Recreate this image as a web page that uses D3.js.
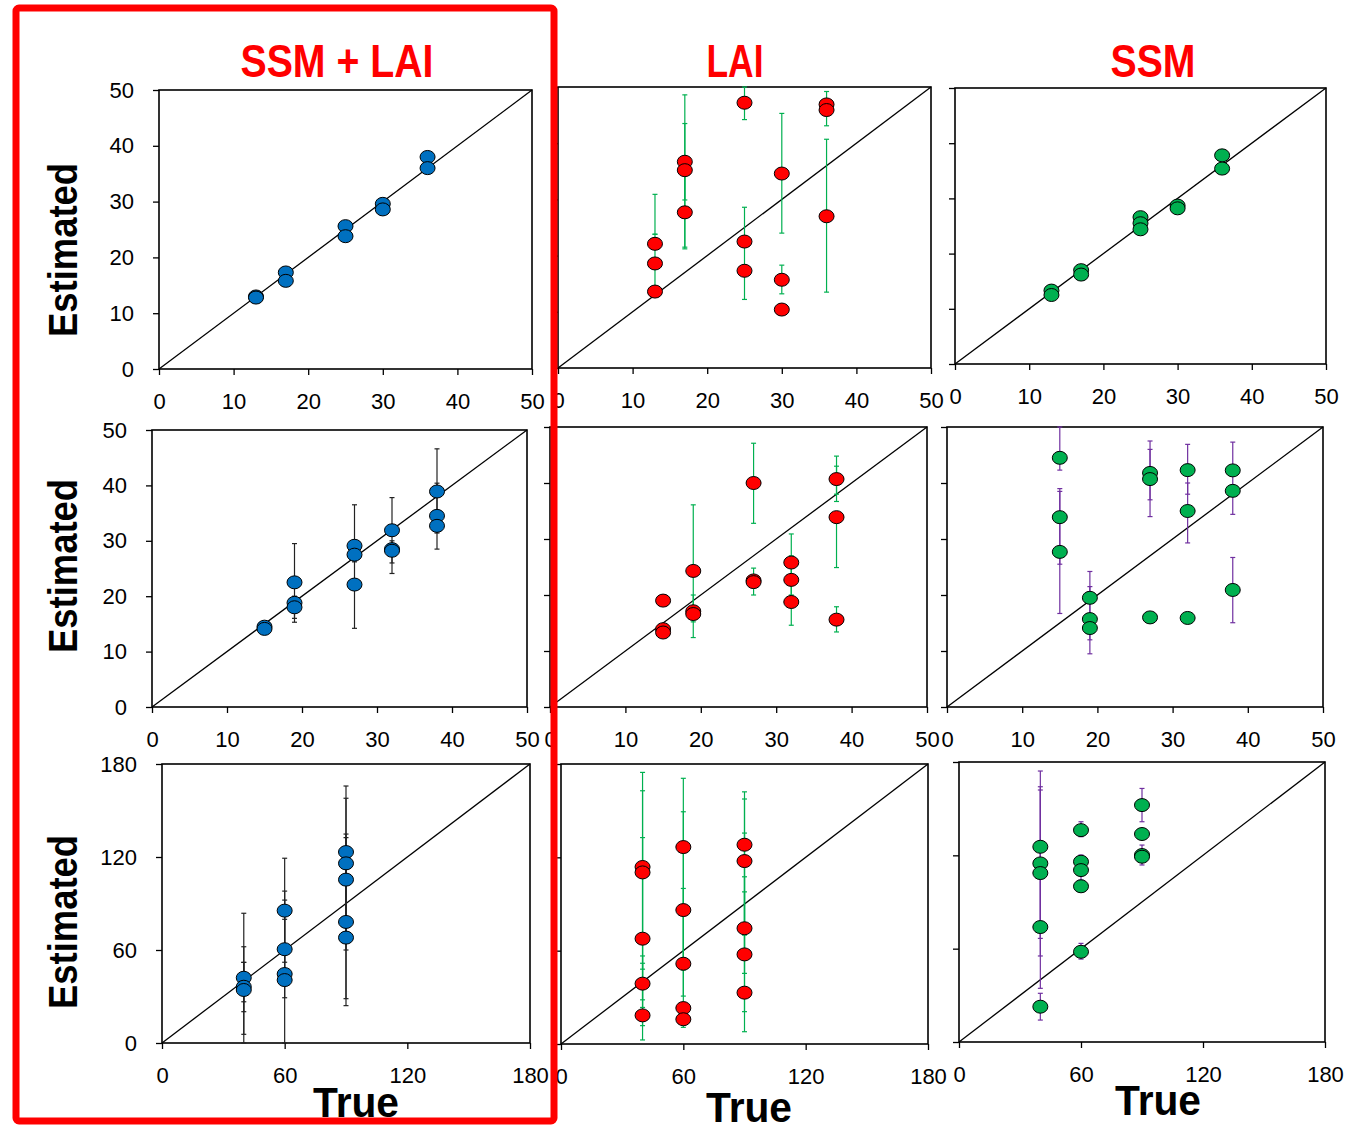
<!DOCTYPE html>
<html>
<head>
<meta charset="utf-8">
<script src="https://cdn.jsdelivr.net/npm/d3@7"></script>
<style>
  body { margin: 0; background: #fff; }
  svg { display: block; }
  text { font-family: "Liberation Sans", Arial, sans-serif; }
</style>
</head>
<body>
<div id="chart"></div>
<script>
// ---- data: [true, estimated] points and [true, low, high] error bars ----
var ticks50 = [0, 10, 20, 30, 40, 50];
var ticks180 = [0, 60, 120, 180];
var colTitles = ["SSM + LAI", "LAI", "SSM"];

// row 1
var ssmLai1 = [[13,13.0],[13,12.8],[17,17.3],[17,15.8],[25,25.6],[25,23.8],[30,29.6],[30,28.6],[36,38.0],[36,36.0]];
var ssmLai1Err = [];
var lai1 = [[13,22.1],[13,18.6],[13,13.6],[17,36.7],[17,35.2],[17,27.7],[25,47.2],[25,22.5],[25,17.3],[30,34.6],[30,15.7],[30,10.4],[36,46.9],[36,45.9],[36,27.0]];
var lai1Err = [[13,23.8,30.9],[13,14.5,23.8],[17,29.9,48.6],[17,21.2,43.5],[17,21.5,36],[25,44.2,50],[25,12.2,28.6],[30,24.0,45.3],[30,13.2,18.3],[36,43.1,49.2],[36,13.5,40.7]];
var ssm1 = [[13,13.3],[13,12.5],[17,17.0],[17,16.2],[25,26.6],[25,25.5],[25,24.4],[30,28.7],[30,28.2],[36,37.8],[36,35.4]];
var ssm1Err = [];

// row 2
var ssmLai2 = [[15,14.5],[15,14.1],[19,22.5],[19,18.8],[19,18.0],[27,29.1],[27,27.5],[27,22.1],[32,31.9],[32,28.5],[32,28.2],[38,38.9],[38,34.5],[38,32.7]];
var ssmLai2Err = [[15,13.2,14.5],[19,15.3,29.5],[19,16,20],[27,14.2,36.5],[27,26.2,30],[32,24.1,37.8],[32,26,30],[38,28.5,46.6],[38,31.4,40.4]];
var lai2 = [[15,19.0],[15,13.9],[15,13.3],[19,24.3],[19,17.1],[19,16.6],[27,40.0],[27,22.6],[27,22.3],[32,25.8],[32,22.7],[32,18.75],[38,40.7],[38,33.9],[38,15.6]];
var lai2Err = [[19,12.4,36.1],[19,15.2,20],[27,32.8,47.1],[27,20.0,24.8],[32,14.6,30.9],[32,20,27],[38,36.7,44.8],[38,38,43],[38,24.9,33.9],[38,13.4,17.9]];
var ssm2 = [[15,44.5],[15,33.9],[15,27.7],[19,19.5],[19,15.7],[19,14.1],[27,41.8],[27,40.7],[27,16.0],[32,42.3],[32,35.0],[32,15.9],[38,42.25],[38,38.6],[38,20.9]];
var ssm2Err = [[15,42.3,50],[15,25.5,39.0],[15,16.7,38.5],[19,9.5,24.2],[19,12,21.5],[27,34.0,47.5],[27,37,46],[32,38,46.9],[32,29.3,40],[38,34.4,47.3],[38,15.05,26.7]];

// row 3
var ssmLai3 = [[40,42.1],[40,36.3],[40,34.2],[60,85.4],[60,60.5],[60,44.5],[60,40.6],[90,123.2],[90,115.9],[90,105.4],[90,78.1],[90,68.0]];
var ssmLai3Err = [[40,5.6,83.7],[40,0,52],[40,20.2,62.1],[40,26.6,52],[60,0,119.2],[60,29.2,98],[60,52.1,92.2],[60,40,79.8],[90,24.1,165.8],[90,28.6,157.9],[90,60,134.8],[90,65,132.5]];
var lai3 = [[40,113.8],[40,110.3],[40,67.7],[40,38.8],[40,18.4],[60,126.6],[60,86.1],[60,51.6],[60,23.1],[60,15.9],[90,128.1],[90,117.6],[90,74.4],[90,57.6],[90,33.0]];
var lai3Err = [[40,2.6,174.6],[40,11.8,162.8],[40,23.5,132.7],[40,28.4,56.6],[40,48.1,51.9],[60,10.7,170.8],[60,30.8,149.3],[60,47.6,100],[90,7.9,162.1],[90,20.8,157.5],[90,45.4,135.6],[90,60,107.5],[90,70,97.8]];
var ssm3 = [[40,125.5],[40,114.8],[40,108.6],[40,73.9],[40,22.7],[60,136.2],[60,115.9],[60,110.5],[60,100.1],[60,58.0],[90,152.3],[90,133.7],[90,120.2],[90,119.1]];
var ssm3Err = [[40,14.1,31.3],[40,34.5,174.2],[40,55.3,162],[40,66.6,164.1],[60,132,141.6],[60,104.1,120.2],[60,53.3,63.4],[90,141.6,163],[90,113.8,126.6]];

var fills = ["#0070c0", "#ff0000", "#00b050"];
var errColors = ["#222222", "#00b050", "#7030a0"];

// panel boxes in page pixels: left, right, top, bottom
var panels = [
  {box:[159,532,90,369], max:50, ticks:ticks50, pts:ssmLai1, err:ssmLai1Err, col:0, row:0},
  {box:[558,931,87,368], max:50, ticks:ticks50, pts:lai1, err:lai1Err, col:1, row:0},
  {box:[955,1326,88,364], max:50, ticks:ticks50, pts:ssm1, err:ssm1Err, col:2, row:0},
  {box:[152,527,430,707], max:50, ticks:ticks50, pts:ssmLai2, err:ssmLai2Err, col:0, row:1},
  {box:[550,927,427,707], max:50, ticks:ticks50, pts:lai2, err:lai2Err, col:1, row:1},
  {box:[947,1323,427,707], max:50, ticks:ticks50, pts:ssm2, err:ssm2Err, col:2, row:1},
  {box:[162,530,764,1043], max:180, ticks:ticks180, pts:ssmLai3, err:ssmLai3Err, col:0, row:2},
  {box:[561,928,764,1044], max:180, ticks:ticks180, pts:lai3, err:lai3Err, col:1, row:2},
  {box:[959,1325,762,1042], max:180, ticks:ticks180, pts:ssm3, err:ssm3Err, col:2, row:2}
];

var svg = d3.select("#chart").append("svg")
  .attr("width", 1359)
  .attr("height", 1126);

panels.forEach(function(p) {
  var x = d3.scaleLinear().domain([0, p.max]).range([p.box[0], p.box[1]]);
  var y = d3.scaleLinear().domain([0, p.max]).range([p.box[3], p.box[2]]);
  var g = svg.append("g");

  // x axis
  var xa = g.append("g")
    .attr("transform", "translate(0," + p.box[3] + ")")
    .call(d3.axisBottom(x).tickValues(p.ticks).tickSize(6).tickSizeOuter(0).tickPadding(18));
  xa.select(".domain").remove();
  xa.selectAll("line").attr("stroke", "#000").attr("stroke-width", 1.3);
  xa.selectAll("text").style("font-size", "22px").attr("fill", "#000");

  // y axis
  var ya = g.append("g")
    .attr("transform", "translate(" + p.box[0] + ",0)")
    .call(d3.axisLeft(y).tickValues(p.ticks).tickSize(6).tickSizeOuter(0).tickPadding(19));
  ya.select(".domain").remove();
  ya.selectAll("line").attr("stroke", "#000").attr("stroke-width", 1.3);
  ya.selectAll("text").style("font-size", "22px").attr("fill", "#000");
  if (p.col > 0) ya.selectAll("text").remove();

  // frame
  g.append("rect")
    .attr("x", p.box[0]).attr("y", p.box[2])
    .attr("width", p.box[1] - p.box[0]).attr("height", p.box[3] - p.box[2])
    .attr("fill", "none").attr("stroke", "#000").attr("stroke-width", 1.6);

  // 1:1 line
  g.append("line")
    .attr("x1", x(0)).attr("y1", y(0))
    .attr("x2", x(p.max)).attr("y2", y(p.max))
    .attr("stroke", "#000").attr("stroke-width", 1.3);

  // error bars
  var eb = g.selectAll(".eb").data(p.err).enter().append("g").attr("class", "eb")
    .attr("stroke", errColors[p.col]).attr("stroke-width", 1.2);
  eb.append("line")
    .attr("x1", function(d) { return x(d[0]); }).attr("x2", function(d) { return x(d[0]); })
    .attr("y1", function(d) { return y(d[1]); }).attr("y2", function(d) { return y(d[2]); });
  eb.append("line")
    .attr("x1", function(d) { return x(d[0]) - 2.5; }).attr("x2", function(d) { return x(d[0]) + 2.5; })
    .attr("y1", function(d) { return y(d[1]); }).attr("y2", function(d) { return y(d[1]); });
  eb.append("line")
    .attr("x1", function(d) { return x(d[0]) - 2.5; }).attr("x2", function(d) { return x(d[0]) + 2.5; })
    .attr("y1", function(d) { return y(d[2]); }).attr("y2", function(d) { return y(d[2]); });

  // points
  g.selectAll(".pt").data(p.pts).enter().append("ellipse")
    .attr("class", "pt")
    .attr("cx", function(d) { return x(d[0]); })
    .attr("cy", function(d) { return y(d[1]); })
    .attr("rx", 7.5).attr("ry", 6.5)
    .attr("fill", fills[p.col])
    .attr("stroke", "#000").attr("stroke-width", 1);
});

// column titles
var titlePos = [[337, 77, 193], [735, 77, 57], [1153, 77, 85]];
colTitles.forEach(function(t, i) {
  svg.append("text")
    .attr("x", titlePos[i][0]).attr("y", titlePos[i][1])
    .attr("text-anchor", "middle")
    .attr("textLength", titlePos[i][2]).attr("lengthAdjust", "spacingAndGlyphs")
    .style("font-size", "46px").style("font-weight", "bold")
    .attr("fill", "#ff0000")
    .text(t);
});

// y axis titles
[250, 566, 922].forEach(function(cy) {
  svg.append("text")
    .attr("transform", "translate(77," + cy + ") rotate(-90)")
    .attr("text-anchor", "middle")
    .attr("textLength", 174).attr("lengthAdjust", "spacingAndGlyphs")
    .style("font-size", "40px").style("font-weight", "bold")
    .attr("fill", "#000")
    .text("Estimated");
});

// x axis titles
[[356, 1117], [749, 1122], [1158, 1115]].forEach(function(p) {
  svg.append("text")
    .attr("x", p[0]).attr("y", p[1])
    .attr("text-anchor", "middle")
    .attr("textLength", 86).attr("lengthAdjust", "spacingAndGlyphs")
    .style("font-size", "42px").style("font-weight", "bold")
    .attr("fill", "#000")
    .text("True");
});

// red highlight box round the first column
svg.append("rect")
  .attr("x", 16).attr("y", 8)
  .attr("width", 538).attr("height", 1113)
  .attr("rx", 3)
  .attr("fill", "none").attr("stroke", "#ff0000").attr("stroke-width", 7);
</script>
</body>
</html>
